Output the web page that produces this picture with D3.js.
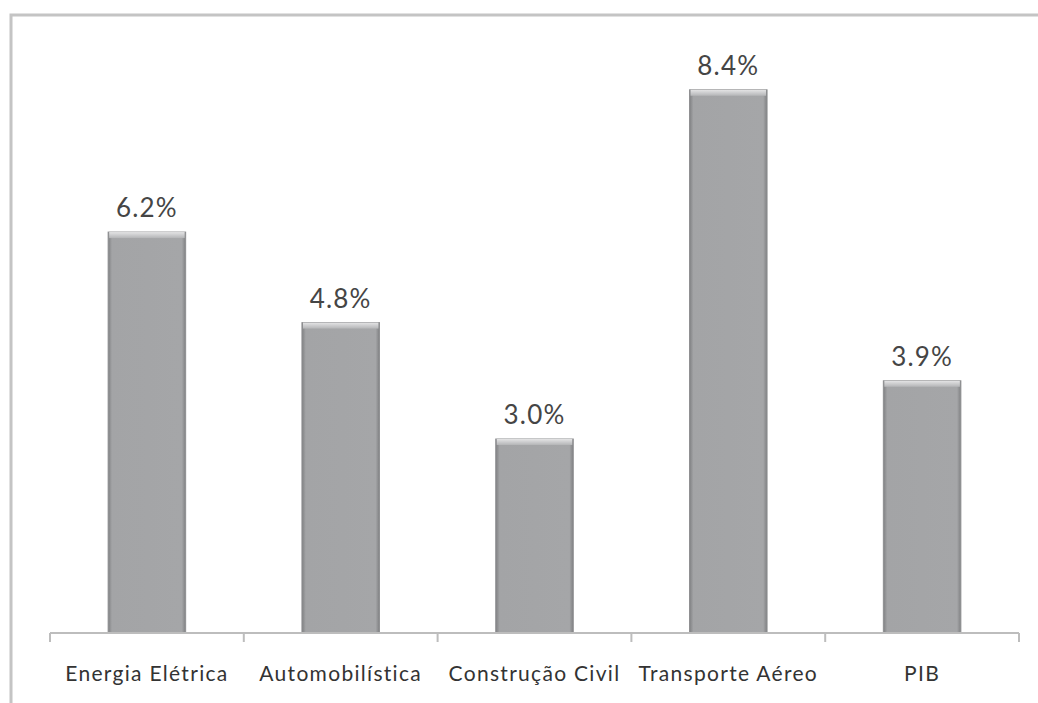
<!DOCTYPE html>
<html>
<head>
<meta charset="utf-8">
<script src="https://cdn.jsdelivr.net/npm/d3@7"></script>
<style>
  html, body { margin: 0; padding: 0; background: #fff; }
  svg { display: block; }
</style>
</head>
<body>
<svg id="chart" width="1038" height="703"></svg>
<script>
// Growth by sector (%)
const categories = ["Energia Elétrica", "Automobilística", "Construção Civil", "Transporte Aéreo", "PIB"];
const values = [6.2, 4.8, 3.0, 8.4, 3.9];
const valueLabels = ["6.2%", "4.8%", "3.0%", "8.4%", "3.9%"];

const svg = d3.select("#chart");
const W = 1038, H = 703;
const plot = { left: 50, right: 1019, top: 51, bottom: 633 };

// Chart frame (only left and top edges fall inside the view)
svg.append("path")
  .attr("d", `M11,${H} L11,15 L${W},15`)
  .attr("fill", "none")
  .attr("stroke", "#c4c4c4")
  .attr("stroke-width", 3);

const defs = svg.append("defs");
const barGrad = defs.append("linearGradient").attr("id", "barFill")
  .attr("x1", 0).attr("x2", 1).attr("y1", 0).attr("y2", 0);
barGrad.append("stop").attr("offset", "0%").attr("stop-color", "#7f8082");
barGrad.append("stop").attr("offset", "5%").attr("stop-color", "#a3a4a6");
barGrad.append("stop").attr("offset", "95%").attr("stop-color", "#a5a6a8");
barGrad.append("stop").attr("offset", "100%").attr("stop-color", "#7f8082");

const capGrad = defs.append("linearGradient").attr("id", "capFill")
  .attr("x1", 0).attr("x2", 0).attr("y1", 0).attr("y2", 1);
capGrad.append("stop").attr("offset", "0%").attr("stop-color", "#e4e4e5");
capGrad.append("stop").attr("offset", "100%").attr("stop-color", "#b4b5b7");

const x = d3.scaleBand()
  .domain(categories)
  .range([plot.left, plot.right])
  .paddingInner(0.6)
  .paddingOuter(0.3);

// Category band used for axis ticks between groups
const xOuter = d3.scaleBand().domain(categories).range([plot.left, plot.right]).padding(0);

const y = d3.scaleLinear().domain([0, 9]).range([plot.bottom, plot.top]);

const data = categories.map((c, i) => ({ c, v: values[i], label: valueLabels[i] }));

const bars = svg.append("g").selectAll("g").data(data).join("g");

bars.append("rect")
  .attr("x", d => x(d.c))
  .attr("y", d => y(d.v))
  .attr("width", x.bandwidth())
  .attr("height", d => y(0) - y(d.v))
  .attr("fill", "url(#barFill)")
  .attr("stroke", "#8e8f91")
  .attr("stroke-width", 1);

bars.append("rect")
  .attr("x", d => x(d.c) + 1)
  .attr("y", d => y(d.v))
  .attr("width", x.bandwidth() - 2)
  .attr("height", 6)
  .attr("fill", "url(#capFill)");

bars.append("text")
  .attr("x", d => x(d.c) + x.bandwidth() / 2)
  .attr("y", d => y(d.v) - 15)
  .attr("text-anchor", "middle")
  .attr("font-family", "Lato, 'Open Sans', sans-serif")
  .attr("font-size", 26)
  .attr("letter-spacing", 1.2)
  .attr("fill", "#454545")
  .text(d => d.label);

// Category axis
const axisG = svg.append("g");
axisG.append("line")
  .attr("x1", plot.left).attr("x2", plot.right)
  .attr("y1", plot.bottom).attr("y2", plot.bottom)
  .attr("stroke", "#bdbdbd").attr("stroke-width", 2);

const tickXs = categories.map(c => xOuter(c)).concat([xOuter(categories[categories.length - 1]) + xOuter.bandwidth()]);
axisG.selectAll("line.tick").data(tickXs).join("line")
  .attr("class", "tick")
  .attr("x1", d => d).attr("x2", d => d)
  .attr("y1", plot.bottom).attr("y2", plot.bottom + 9)
  .attr("stroke", "#bdbdbd").attr("stroke-width", 2);

axisG.selectAll("text").data(categories).join("text")
  .attr("x", d => xOuter(d) + xOuter.bandwidth() / 2)
  .attr("y", 681)
  .attr("text-anchor", "middle")
  .attr("font-family", "Lato, 'Open Sans', sans-serif")
  .attr("font-size", 21)
  .attr("letter-spacing", 1.3)
  .attr("fill", "#333")
  .text(d => d);
</script>
</body>
</html>
